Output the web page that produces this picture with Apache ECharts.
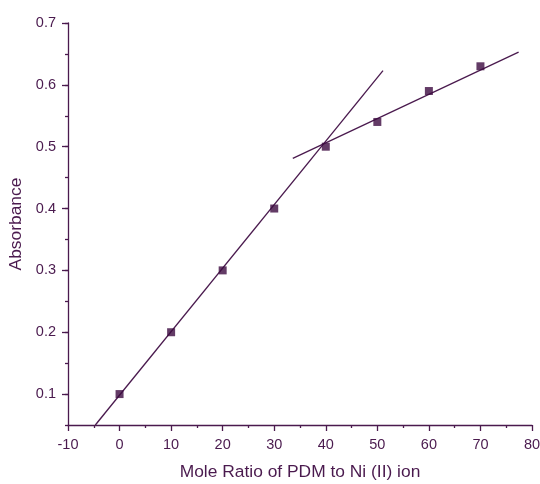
<!DOCTYPE html>
<html><head><meta charset="utf-8">
<script src="https://cdn.jsdelivr.net/npm/echarts@6/dist/echarts.min.js"></script>
<style>html,body{margin:0;padding:0;background:#fff}#c{width:540px;height:484px}</style>
</head><body><div id="c"></div>
<script>
const moleRatio = [0, 10, 20, 30, 40, 50, 60, 70];
const absorbance = [0.10, 0.20, 0.30, 0.40, 0.50, 0.54, 0.59, 0.63];
const fitLine1 = [[-4.7, 0.05], [51.1, 0.623]];
const fitLine2 = [[33.6, 0.481], [77.4, 0.653]];
const yLabels = [0.1, 0.2, 0.3, 0.4, 0.5, 0.6, 0.7];

const col = '#4a1a4e';
const font = 'Liberation Sans, Arial, sans-serif';
const chart = echarts.init(document.getElementById('c'));
chart.setOption({
  animation: false,
  grid: {left: 68, right: 8, top: 23, bottom: 59, outerBoundsMode: 'none', containLabel: false},
  xAxis: {
    type: 'value', min: -10, max: 80, interval: 10,
    name: 'Mole Ratio of PDM to Ni (II) ion', nameLocation: 'middle', nameGap: 39,
    nameTextStyle: {color: col, fontSize: 17.4, fontFamily: font},
    axisLine: {onZero: false, lineStyle: {color: col, width: 1.3}},
    axisTick: {length: 6, lineStyle: {color: col, width: 1.3}},
    minorTick: {show: true, splitNumber: 2, length: 3, lineStyle: {color: col, width: 1.3}},
    axisLabel: {color: col, fontSize: 14.5, fontFamily: font, margin: 12},
    splitLine: {show: false}
  },
  yAxis: [{
    type: 'value', min: 0.05, max: 0.7,
    name: 'Absorbance', nameLocation: 'middle', nameGap: 41,
    nameTextStyle: {color: col, fontSize: 17.4, fontFamily: font},
    axisLine: {onZero: false, lineStyle: {color: col, width: 1.3}},
    axisTick: {length: 6, customValues: yLabels, lineStyle: {color: col, width: 1.3}},
    axisLabel: {color: col, fontSize: 14.5, fontFamily: font, margin: 12, customValues: yLabels,
      formatter: v => v.toFixed(1)},
    splitLine: {show: false}
  }, {
    type: 'value', min: 0.05, max: 0.7, interval: 0.05, position: 'left',
    axisLine: {show: false, onZero: false},
    axisTick: {length: 3, lineStyle: {color: col, width: 1.3}},
    axisLabel: {show: false},
    splitLine: {show: false}
  }],
  series: [
    {type: 'line', data: fitLine1, symbol: 'none', lineStyle: {color: col, width: 1.3}, silent: true},
    {type: 'line', data: fitLine2, symbol: 'none', lineStyle: {color: col, width: 1.3}, silent: true},
    {type: 'scatter', data: moleRatio.map((x, i) => [x, absorbance[i]]), symbol: 'rect', symbolSize: 8,
     itemStyle: {color: '#3c0a40'}, z: 5}
  ]
});
</script></body></html>
